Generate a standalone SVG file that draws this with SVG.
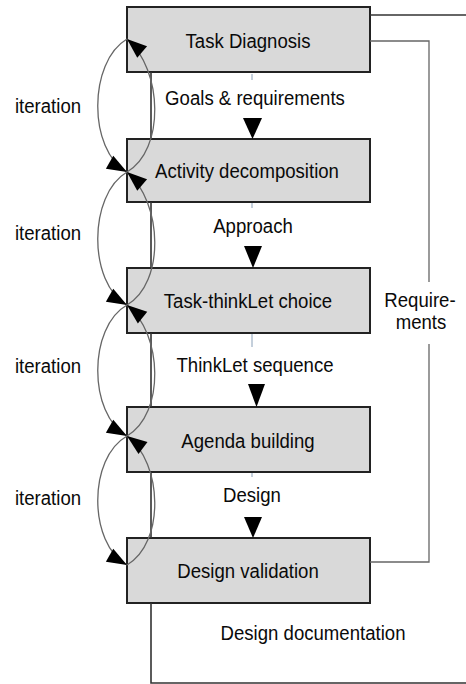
<svg xmlns="http://www.w3.org/2000/svg" width="466" height="684" viewBox="0 0 466 684">
<style>
.box{fill:#d9d9d9;stroke:#222;stroke-width:2}
.t{font-family:"Liberation Sans",Arial,sans-serif;font-size:18.6px;fill:#0a0a0a;text-anchor:middle}
.flow{fill:none;stroke:#333;stroke-width:1.6}
.req{fill:none;stroke:#666;stroke-width:1.3}
.tick{stroke:#8aa0b8;stroke-width:1}
.loop{fill:none;stroke:#666;stroke-width:1.3}
.ah{fill:#000}
</style>
<defs>
<marker id="arr" markerUnits="userSpaceOnUse" markerWidth="22" markerHeight="16" refX="20" refY="7.5" orient="auto" overflow="visible">
<path d="M0,0 L20,7.5 L0,15 z" fill="#000"/>
</marker>
</defs>
<rect width="466" height="684" fill="#fff"/>
<g id="task-diagnosis"><rect class="box" x="127" y="7" width="243" height="65"/><text class="t" transform="translate(248,48) scale(1,1.12)">Task Diagnosis</text></g>
<g id="activity-decomposition"><rect class="box" x="127" y="139" width="243" height="63"/><text class="t" transform="translate(247,178) scale(1,1.12)">Activity decomposition</text></g>
<g id="task-thinklet-choice"><rect class="box" x="127" y="268" width="243" height="65"/><text class="t" transform="translate(248,308) scale(1,1.12)">Task-thinkLet choice</text></g>
<g id="agenda-building"><rect class="box" x="127" y="407" width="243" height="65"/><text class="t" transform="translate(248,448) scale(1,1.12)">Agenda building</text></g>
<g id="design-validation"><rect class="box" x="127" y="538" width="243" height="65"/><text class="t" transform="translate(248,578) scale(1,1.12)">Design validation</text></g>
<g id="connectors">
<path class="flow" d="M370,15 H466"/>
<path class="flow" d="M151,72 V139 M151,202 V268 M151,333 V407 M151,472 V538 M151,603 V683 H466"/>
<path class="req" d="M370,41 H429 V282 M429,344 V562 H370"/>
<line class="tick" x1="252" y1="74" x2="252" y2="80"/>
<line class="tick" x1="252" y1="203" x2="252" y2="208"/>
<line class="tick" x1="252" y1="334" x2="252" y2="347" stroke="#888"/>
<line class="tick" x1="252" y1="473" x2="252" y2="477"/>
<polygon class="ah" points="243,118 262,118 252.5,139"/>
<polygon class="ah" points="244,246 262,246 253,268"/>
<polygon class="ah" points="248,384 265,384 256.5,407"/>
<polygon class="ah" points="244,517 262,517 253,538"/>
<g id="loops">
<path class="loop" d="M127,39 C88,62 88,150 127,172" marker-end="url(#arr)"/>
<path class="loop" d="M127,172 C165,150 163,70 127,39" marker-end="url(#arr)"/>
<path class="loop" d="M127,172 C88,195 88,283 127,305" marker-end="url(#arr)"/>
<path class="loop" d="M127,305 C165,283 163,203 127,172" marker-end="url(#arr)"/>
<path class="loop" d="M127,305 C88,327 88,414 127,436" marker-end="url(#arr)"/>
<path class="loop" d="M127,436 C165,414 163,334 127,305" marker-end="url(#arr)"/>
<path class="loop" d="M127,436 C88,458 88,543 127,565" marker-end="url(#arr)"/>
<path class="loop" d="M127,565 C165,543 163,463 127,436" marker-end="url(#arr)"/>
</g>
</g>
<g id="labels">
<text class="t" transform="translate(255,105) scale(1,1.12)">Goals &amp; requirements</text>
<text class="t" transform="translate(253,233) scale(1,1.12)">Approach</text>
<text class="t" transform="translate(255,372) scale(1,1.12)">ThinkLet sequence</text>
<text class="t" transform="translate(252,502) scale(1,1.12)">Design</text>
<text class="t" transform="translate(313,640) scale(1,1.12)">Design documentation</text>
<text class="t" transform="translate(420,307) scale(1,1.12)">Require-</text>
<text class="t" transform="translate(421,329) scale(1,1.12)">ments</text>
<text class="t" transform="translate(48,113) scale(1,1.12)">iteration</text>
<text class="t" transform="translate(48,240) scale(1,1.12)">iteration</text>
<text class="t" transform="translate(48,373) scale(1,1.12)">iteration</text>
<text class="t" transform="translate(48,505) scale(1,1.12)">iteration</text>
</g>
</svg>
